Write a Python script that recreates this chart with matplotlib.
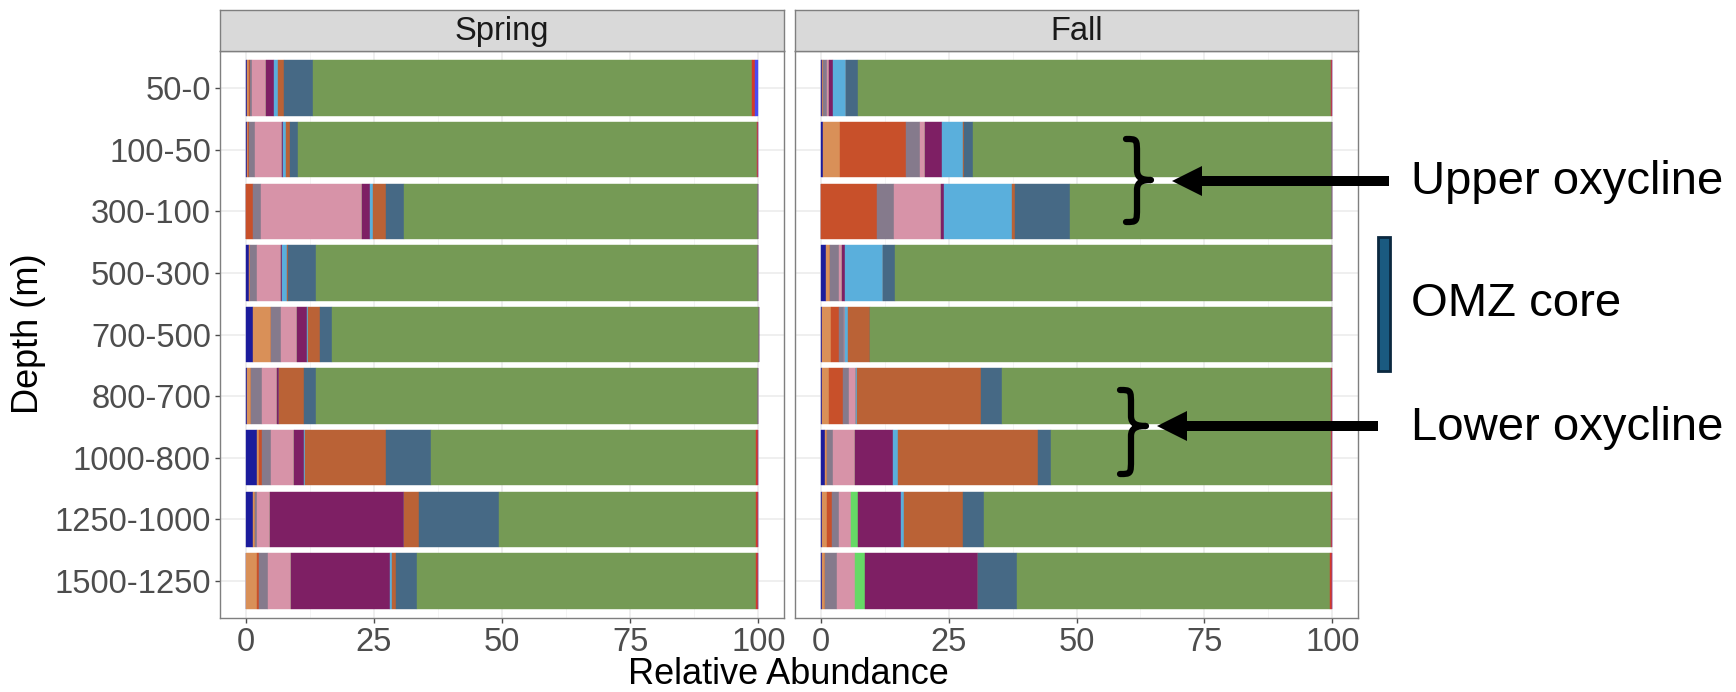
import matplotlib
matplotlib.use("Agg")
import matplotlib.pyplot as plt
import numpy as np
from matplotlib.path import Path
from matplotlib.patches import PathPatch, Polygon, Rectangle

plt.rcParams['font.family'] = ['Liberation Sans', 'DejaVu Sans']

# ---------------- data ----------------
depths = ["50-0", "100-50", "300-100", "500-300", "700-500",
          "800-700", "1000-800", "1250-1000", "1500-1250"]
seasons = ["Spring", "Fall"]

taxa_colors = ["#1C1C9C", "#D99058", "#C8502A", "#857A8C", "#D793A8",
               "#66D966", "#7E1F64", "#5AAFDC", "#BA6236", "#466985",
               "#759A55", "#D43A2A", "#4B4BF0"]

# Spring (values per depth, top to bottom)
spring_dark_blue   = [0.2, 0.33, 0.0, 0.65, 1.5, 0.2, 2.15, 1.36, 0.0]
spring_tan         = [0.4, 0.1, 0.0, 0.2, 3.4, 0.8, 0.5, 0.4, 2.27]
spring_red_orange  = [0.2, 0.3, 1.4, 0.0, 0.0, 0.0, 0.45, 0.0, 0.3]
spring_grey        = [0.4, 1.1, 1.5, 1.4, 1.9, 2.1, 1.75, 0.4, 1.8]
spring_pink        = [2.7, 5.2, 19.7, 4.6, 3.25, 3.1, 4.6, 2.6, 4.4]
spring_light_green = [0.0, 0.0, 0.0, 0.0, 0.0, 0.0, 0.0, 0.0, 0.0]
spring_purple      = [1.7, 0.2, 1.6, 0.3, 1.9, 0.4, 1.9, 26.2, 19.3]
spring_light_blue  = [0.65, 0.6, 0.7, 0.9, 0.2, 0.0, 0.25, 0.0, 0.5]
spring_brown       = [1.2, 0.85, 2.5, 0.25, 2.3, 4.8, 15.7, 2.9, 0.8]
spring_slate       = [5.65, 1.6, 3.4, 5.5, 2.3, 2.3, 8.9, 15.6, 4.0]
spring_green       = [85.6, 89.5, 69.2, 86.2, 83.3, 86.2, 63.3, 50.0, 66.1]
spring_red         = [0.6, 0.1, 0.0, 0.0, 0.0, 0.1, 0.5, 0.5, 0.5]
spring_bright_blue = [0.7, 0.1, 0.0, 0.0, 0.0, 0.0, 0.0, 0.0, 0.0]

# Fall
fall_dark_blue   = [0.3, 0.45, 0.0, 1.1, 0.25, 0.25, 0.9, 0.25, 0.2]
fall_tan         = [0.25, 3.25, 0.0, 0.8, 1.8, 1.35, 0.3, 1.0, 0.6]
fall_red_orange  = [0.0, 12.9, 11.0, 0.0, 1.6, 2.7, 0.0, 1.0, 0.0]
fall_grey        = [0.65, 2.85, 3.25, 1.6, 0.85, 1.2, 1.2, 1.3, 2.4]
fall_pink        = [0.5, 1.0, 9.3, 0.7, 0.3, 1.4, 4.35, 2.45, 3.6]
fall_light_green = [0.0, 0.0, 0.0, 0.0, 0.0, 0.0, 0.0, 1.3, 1.8]
fall_purple      = [0.8, 3.25, 0.65, 0.65, 0.0, 0.0, 7.45, 8.45, 22.2]
fall_light_blue  = [2.5, 4.15, 13.2, 7.4, 0.5, 0.3, 1.0, 0.45, 0.0]
fall_brown       = [0.0, 0.2, 0.65, 0.0, 4.35, 24.2, 27.3, 11.7, 0.0]
fall_slate       = [2.27, 1.7, 10.65, 2.35, 0.0, 4.0, 2.45, 4.1, 7.65]
fall_green       = [92.5, 70.2, 51.3, 85.4, 90.35, 64.4, 54.85, 67.8, 61.15]
fall_red         = [0.23, 0.0, 0.0, 0.0, 0.0, 0.2, 0.2, 0.2, 0.4]
fall_bright_blue = [0.0, 0.0, 0.0, 0.0, 0.0, 0.0, 0.0, 0.0, 0.0]

spring_series = [spring_dark_blue, spring_tan, spring_red_orange, spring_grey,
                 spring_pink, spring_light_green, spring_purple, spring_light_blue,
                 spring_brown, spring_slate, spring_green, spring_red, spring_bright_blue]
fall_series = [fall_dark_blue, fall_tan, fall_red_orange, fall_grey,
               fall_pink, fall_light_green, fall_purple, fall_light_blue,
               fall_brown, fall_slate, fall_green, fall_red, fall_bright_blue]

annotation_labels = ["Upper oxycline", "OMZ core", "Lower oxycline"]

# ---------------- figure ----------------
W, H = 1736, 692
fig = plt.figure(figsize=(W / 100, H / 100), dpi=100)
fig.patch.set_facecolor("white")

def fx(px):
    return px / W

def fy(py):
    return 1 - py / H

panel_top, panel_bot = 51, 618
strip_top = 10
panels = [(220, 784), (795, 1358)]
tick_grey = "#4D4D4D"
border = "#7F7F7F"

y = np.arange(len(depths))
for (x0, x1), season, series in zip(panels, seasons, [spring_series, fall_series]):
    ax = fig.add_axes([fx(x0), fy(panel_bot), fx(x1) - fx(x0), (panel_bot - panel_top) / H])
    left = np.zeros(len(depths))
    for vals, col in zip(series, taxa_colors):
        v = np.array(vals)
        ax.barh(y, v, left=left, height=0.9, color=col, edgecolor=col, linewidth=0.3, zorder=3)
        left += v
    ax.set_xlim(-5, 105)
    ax.set_ylim(len(depths) - 0.4, -0.6)
    ax.set_xticks([0, 25, 50, 75, 100])
    ax.set_xticks([12.5, 37.5, 62.5, 87.5], minor=True)
    ax.set_yticks(y)
    ax.grid(True, which="major", color="#EBEBEB", lw=1.1, zorder=0)
    ax.grid(True, which="minor", axis="x", color="#F2F2F2", lw=0.6, zorder=0)
    ax.set_axisbelow(True)
    ax.tick_params(axis="both", which="major", color=tick_grey, length=3.5, width=1.0,
                   labelsize=23.5, labelcolor=tick_grey, pad=3)
    ax.tick_params(axis="x", which="minor", length=0)
    if season == "Spring":
        ax.set_yticklabels(depths)
    else:
        ax.set_yticklabels([])
        ax.tick_params(axis="y", length=0)
    for s in ax.spines.values():
        s.set_color(border)
        s.set_linewidth(1.0)
    # strip
    sax = fig.add_axes([fx(x0), fy(panel_top), fx(x1) - fx(x0), (panel_top - strip_top) / H])
    sax.set_facecolor("#D9D9D9")
    sax.set_xticks([])
    sax.set_yticks([])
    for s in sax.spines.values():
        s.set_color(border)
        s.set_linewidth(1.0)
    sax.text(0.5, 0.47, season, transform=sax.transAxes, ha="center", va="center",
             fontsize=23.5, color="#1A1A1A")

fig.text(fx(28), fy(334), "Depth (m)", rotation=90, ha="center", va="center",
         fontsize=26, color="black")
fig.text(fx(788), fy(675), "Relative Abundance", ha="center", va="center",
         fontsize=26, color="black")

# ---------------- annotations overlay (pixel coords) ----------------
ov = fig.add_axes([0, 0, 1, 1])
ov.set_xlim(0, W)
ov.set_ylim(H, 0)
ov.axis("off")
ov.patch.set_alpha(0)

def brace(xl, xs, xt, yt, ym, yb):
    h = yb - yt
    verts = [
        (xl, yt),
        (xs, yt), (xs, yt), (xs, yt + 0.18 * h),
        (xs, ym - 0.12 * h),
        (xs, ym - 0.02 * h), (xs + 0.4 * (xt - xs), ym), (xt, ym),
        (xs + 0.4 * (xt - xs), ym), (xs, ym + 0.02 * h), (xs, ym + 0.12 * h),
        (xs, yb - 0.18 * h),
        (xs, yb), (xs, yb), (xl, yb),
    ]
    codes = [Path.MOVETO,
             Path.CURVE4, Path.CURVE4, Path.CURVE4,
             Path.LINETO,
             Path.CURVE4, Path.CURVE4, Path.CURVE4,
             Path.CURVE4, Path.CURVE4, Path.CURVE4,
             Path.LINETO,
             Path.CURVE4, Path.CURVE4, Path.CURVE4]
    ov.add_patch(PathPatch(Path(verts, codes), fill=False, lw=4.5, color="black",
                           capstyle="round", joinstyle="round"))

def arrow(x_tip, x_tail, yc, shaft=10, head_len=30, head_w=30):
    ov.add_patch(Rectangle((x_tip + head_len - 2, yc - shaft / 2), x_tail - x_tip - head_len + 2,
                           shaft, color="black", lw=0))
    ov.add_patch(Polygon([(x_tip, yc), (x_tip + head_len, yc - head_w / 2),
                          (x_tip + head_len, yc + head_w / 2)], closed=True,
                         color="black", lw=0))

brace(1126, 1137, 1151, 139, 180, 222)
arrow(1172, 1389, 181)
brace(1120, 1131, 1146, 390, 426, 474)
arrow(1157, 1378, 426)

ov.add_patch(Rectangle((1378, 237), 12, 134, facecolor="#1A5A80", edgecolor="#0B2840", lw=2))

for txt, yc in zip(annotation_labels, [182, 304, 428]):
    ov.text(1411, yc, txt, ha="left", va="center", fontsize=34, color="black")

fig.savefig("out.png", dpi=100)
